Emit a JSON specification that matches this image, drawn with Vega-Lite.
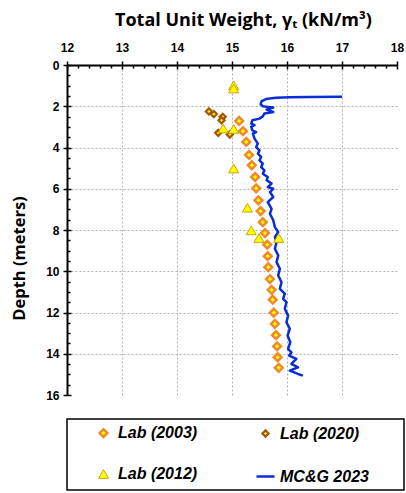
{
  "$schema": "https://vega.github.io/schema/vega-lite/v6.json",
  "width": 330,
  "height": 330,
  "autosize": {"type": "none"},
  "padding": {"left": 67, "top": 65, "right": 9, "bottom": 98},
  "background": "white",
  "config": {
    "view": {"stroke": null},
    "font": "Liberation Sans",
    "legend": {"strokeWidth": 1.5}
  },
  "datasets": {
    "mcg": [
      {"w": 17.00, "depth": 1.54}, {"w": 16.41, "depth": 1.55}, {"w": 16.05, "depth": 1.56}, {"w": 15.80, "depth": 1.59},
      {"w": 15.62, "depth": 1.65}, {"w": 15.54, "depth": 1.75}, {"w": 15.52, "depth": 1.90}, {"w": 15.56, "depth": 2.00},
      {"w": 15.65, "depth": 2.03}, {"w": 15.75, "depth": 2.06}, {"w": 15.63, "depth": 2.16}, {"w": 15.75, "depth": 2.28},
      {"w": 15.59, "depth": 2.35}, {"w": 15.56, "depth": 2.49}, {"w": 15.50, "depth": 2.60}, {"w": 15.37, "depth": 2.68},
      {"w": 15.35, "depth": 2.84}, {"w": 15.41, "depth": 2.92}, {"w": 15.35, "depth": 3.00}, {"w": 15.37, "depth": 3.17},
      {"w": 15.44, "depth": 3.25}, {"w": 15.38, "depth": 3.33}, {"w": 15.41, "depth": 3.57}, {"w": 15.47, "depth": 3.81},
      {"w": 15.44, "depth": 3.98}, {"w": 15.50, "depth": 4.14}, {"w": 15.47, "depth": 4.30}, {"w": 15.53, "depth": 4.46},
      {"w": 15.50, "depth": 4.62}, {"w": 15.56, "depth": 4.78}, {"w": 15.53, "depth": 4.95}, {"w": 15.59, "depth": 5.11},
      {"w": 15.56, "depth": 5.27}, {"w": 15.65, "depth": 5.43}, {"w": 15.63, "depth": 5.59}, {"w": 15.72, "depth": 5.75},
      {"w": 15.65, "depth": 5.92}, {"w": 15.75, "depth": 6.00}, {"w": 15.69, "depth": 6.16}, {"w": 15.75, "depth": 6.40},
      {"w": 15.65, "depth": 6.65}, {"w": 15.72, "depth": 6.97}, {"w": 15.69, "depth": 7.21}, {"w": 15.75, "depth": 7.53},
      {"w": 15.78, "depth": 7.86}, {"w": 15.84, "depth": 8.10}, {"w": 15.78, "depth": 8.34}, {"w": 15.81, "depth": 8.59},
      {"w": 15.78, "depth": 8.91}, {"w": 15.84, "depth": 9.23}, {"w": 15.81, "depth": 9.56}, {"w": 15.87, "depth": 9.88},
      {"w": 15.84, "depth": 10.20}, {"w": 15.90, "depth": 10.53}, {"w": 15.87, "depth": 10.85}, {"w": 15.96, "depth": 11.09},
      {"w": 15.93, "depth": 11.34}, {"w": 15.99, "depth": 11.50}, {"w": 15.96, "depth": 11.82}, {"w": 16.02, "depth": 12.15},
      {"w": 15.99, "depth": 12.47}, {"w": 16.05, "depth": 12.79}, {"w": 16.01, "depth": 13.12}, {"w": 16.06, "depth": 13.44},
      {"w": 16.02, "depth": 13.76}, {"w": 16.08, "depth": 13.93}, {"w": 16.04, "depth": 14.09}, {"w": 16.17, "depth": 14.25},
      {"w": 16.08, "depth": 14.49}, {"w": 16.20, "depth": 14.66}, {"w": 16.05, "depth": 14.82}, {"w": 16.20, "depth": 14.98},
      {"w": 16.29, "depth": 15.06}
    ],
    "lab": [
      {"series": "Lab (2003)", "w": 15.13, "depth": 2.71}, {"series": "Lab (2003)", "w": 15.20, "depth": 3.21},
      {"series": "Lab (2003)", "w": 15.26, "depth": 3.73}, {"series": "Lab (2003)", "w": 15.31, "depth": 4.36},
      {"series": "Lab (2003)", "w": 15.36, "depth": 4.86}, {"series": "Lab (2003)", "w": 15.42, "depth": 5.43},
      {"series": "Lab (2003)", "w": 15.44, "depth": 5.98}, {"series": "Lab (2003)", "w": 15.48, "depth": 6.56},
      {"series": "Lab (2003)", "w": 15.52, "depth": 7.08}, {"series": "Lab (2003)", "w": 15.56, "depth": 7.62},
      {"series": "Lab (2003)", "w": 15.60, "depth": 8.15}, {"series": "Lab (2003)", "w": 15.64, "depth": 8.71},
      {"series": "Lab (2003)", "w": 15.65, "depth": 9.27}, {"series": "Lab (2003)", "w": 15.66, "depth": 9.80},
      {"series": "Lab (2003)", "w": 15.69, "depth": 10.38}, {"series": "Lab (2003)", "w": 15.72, "depth": 10.90},
      {"series": "Lab (2003)", "w": 15.74, "depth": 11.38}, {"series": "Lab (2003)", "w": 15.76, "depth": 12.01},
      {"series": "Lab (2003)", "w": 15.78, "depth": 12.55}, {"series": "Lab (2003)", "w": 15.80, "depth": 13.10},
      {"series": "Lab (2003)", "w": 15.82, "depth": 13.64}, {"series": "Lab (2003)", "w": 15.83, "depth": 14.17},
      {"series": "Lab (2003)", "w": 15.85, "depth": 14.68},
      {"series": "Lab (2020)", "w": 14.58, "depth": 2.25}, {"series": "Lab (2020)", "w": 14.67, "depth": 2.38},
      {"series": "Lab (2020)", "w": 14.83, "depth": 2.51}, {"series": "Lab (2020)", "w": 14.81, "depth": 2.68},
      {"series": "Lab (2020)", "w": 14.75, "depth": 3.29}, {"series": "Lab (2020)", "w": 14.96, "depth": 3.37},
      {"series": "Lab (2012)", "w": 15.03, "depth": 0.98}, {"series": "Lab (2012)", "w": 15.03, "depth": 1.14},
      {"series": "Lab (2012)", "w": 14.84, "depth": 3.08}, {"series": "Lab (2012)", "w": 15.03, "depth": 3.10},
      {"series": "Lab (2012)", "w": 15.03, "depth": 5.02}, {"series": "Lab (2012)", "w": 15.28, "depth": 6.92},
      {"series": "Lab (2012)", "w": 15.35, "depth": 8.02}, {"series": "Lab (2012)", "w": 15.49, "depth": 8.39},
      {"series": "Lab (2012)", "w": 15.85, "depth": 8.39}
    ]
  },
  "layer": [
    {
      "data": {"name": "mcg"},
      "mark": {"type": "line", "color": "#0a2dd6", "strokeWidth": 2.5, "strokeJoin": "round"},
      "encoding": {
        "x": {
          "field": "w", "type": "quantitative",
          "scale": {"domain": [12, 18], "nice": false, "zero": false},
          "axis": {
            "orient": "top",
            "values": [12, 12.2, 12.4, 12.6, 12.8, 13, 13.2, 13.4, 13.6, 13.8, 14, 14.2, 14.4, 14.6, 14.8, 15, 15.2, 15.4, 15.6, 15.8, 16, 16.2, 16.4, 16.6, 16.8, 17, 17.2, 17.4, 17.6, 17.8, 18],
            "labelExpr": "datum.value % 1 === 0 ? format(datum.value, 'd') : ''",
            "labelOverlap": false, "labelFlush": false,
            "labelFont": "Liberation Sans", "labelFontWeight": "bold", "labelFontSize": 12, "labelColor": "black",
            "labelPadding": 15,
            "domainColor": "black", "domainWidth": 2,
            "tickColor": "black", "tickWidth": 1.5,
            "tickSize": {"condition": {"test": "datum.value % 1 === 0", "value": -4}, "value": -3},
            "grid": true, "gridColor": "#b0b0b0", "gridDash": [2, 2], "gridWidth": 1,
            "gridOpacity": {"condition": {"test": "datum.value % 1 !== 0 || datum.value === 12 || datum.value === 18", "value": 0}, "value": 1},
            "title": "Total Unit Weight, γₜ (kN/m³)",
            "titleFont": "Open Sans", "titleFontSize": 18, "titleFontWeight": "bold", "titleColor": "black",
            "titlePadding": 11, "titleX": 176
          }
        },
        "y": {
          "field": "depth", "type": "quantitative",
          "scale": {"domain": [0, 16], "reverse": true, "nice": false, "zero": false},
          "axis": {
            "orient": "left",
            "values": [0, 0.5, 1, 1.5, 2, 2.5, 3, 3.5, 4, 4.5, 5, 5.5, 6, 6.5, 7, 7.5, 8, 8.5, 9, 9.5, 10, 10.5, 11, 11.5, 12, 12.5, 13, 13.5, 14, 14.5, 15, 15.5, 16],
            "labelExpr": "datum.value % 2 === 0 ? format(datum.value, 'd') : ''",
            "labelOverlap": false, "labelFlush": false,
            "labelFont": "Liberation Sans", "labelFontWeight": "bold", "labelFontSize": 12, "labelColor": "black",
            "labelPadding": 12,
            "domainColor": "black", "domainWidth": 2,
            "tickColor": "black", "tickWidth": 1.5,
            "tickSize": {"condition": {"test": "datum.value % 2 === 0", "value": -4}, "value": -3},
            "grid": true, "gridColor": "#b0b0b0", "gridDash": [2, 2], "gridWidth": 1,
            "gridOpacity": {"condition": {"test": "datum.value % 2 !== 0 || datum.value === 0 || datum.value === 16", "value": 0}, "value": 1},
            "title": "Depth (meters)",
            "titleFont": "Open Sans", "titleFontSize": 16.5, "titleFontWeight": "bold", "titleColor": "black",
            "titlePadding": 18, "titleY": 193
          }
        },
        "order": {"field": "depth", "type": "quantitative"}
      }
    },
    {
      "data": {"name": "lab"},
      "mark": {"type": "point", "filled": true, "opacity": 1},
      "encoding": {
        "x": {
          "field": "w", "type": "quantitative",
          "scale": {"domain": [12, 18], "nice": false, "zero": false},
          "axis": {
            "orient": "top", "values": [12, 13, 14, 15, 16, 17, 18],
            "labels": false, "domain": false, "grid": false, "title": null,
            "tickColor": "black", "tickWidth": 1.5, "tickSize": 4
          }
        },
        "y": {
          "field": "depth", "type": "quantitative",
          "scale": {"domain": [0, 16], "reverse": true, "nice": false, "zero": false},
          "axis": {
            "orient": "left", "values": [0, 2, 4, 6, 8, 10, 12, 14, 16],
            "labels": false, "domain": false, "grid": false, "title": null,
            "tickColor": "black", "tickWidth": 1.5, "tickSize": 4
          }
        },
        "shape": {
          "field": "series", "type": "nominal",
          "scale": {"domain": ["Lab (2003)", "Lab (2020)", "Lab (2012)", "MC&G 2023"], "range": ["diamond", "diamond", "triangle-up", "stroke"]},
          "legend": {
            "orient": "none", "legendX": 0, "legendY": 354,
            "direction": "horizontal",
            "columns": 2, "title": "\u00a0", "titleOrient": "right", "titlePadding": 30, "titleFontSize": 16,
            "padding": 5, "strokeColor": "black",
            "labelFont": "Liberation Sans", "labelFontSize": 16, "labelFontStyle": "italic", "labelFontWeight": "bold", "labelColor": "black",
            "columnPadding": 27, "rowPadding": 23, "symbolOffset": 21, "labelOffset": 4, "gridAlign": "all"
          }
        },
        "fill": {
          "field": "series", "type": "nominal",
          "scale": {"domain": ["Lab (2003)", "Lab (2020)", "Lab (2012)", "MC&G 2023"], "range": ["#ffff00", "#ffff00", "#ffff00", "transparent"]}
        },
        "stroke": {
          "field": "series", "type": "nominal",
          "scale": {"domain": ["Lab (2003)", "Lab (2020)", "Lab (2012)", "MC&G 2023"], "range": ["#ee8a2e", "#a0560c", "#cfa400", "#0a2dd6"]}
        },
        "size": {
          "field": "series", "type": "nominal",
          "scale": {"type": "ordinal", "domain": ["Lab (2003)", "Lab (2020)", "Lab (2012)", "MC&G 2023"], "range": [60, 38, 100, 324]}
        },
        "strokeWidth": {
          "field": "series", "type": "nominal",
          "scale": {"type": "ordinal", "domain": ["Lab (2003)", "Lab (2020)", "Lab (2012)", "MC&G 2023"], "range": [2.5, 2.2, 1, 2.5]}
        }
      }
    }
  ],
  "resolve": {"axis": {"x": "independent", "y": "independent"}}
}
